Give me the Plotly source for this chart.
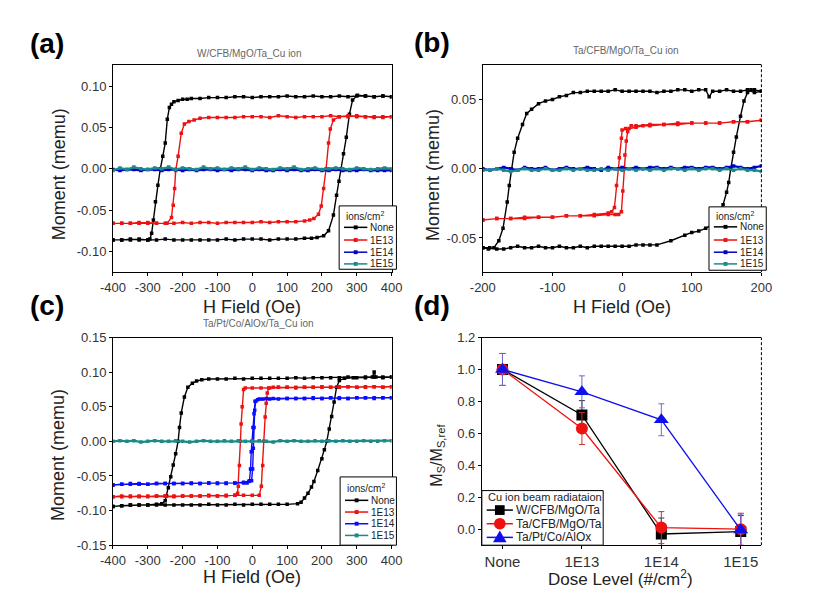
import plotly.graph_objects as go

FONT = "Liberation Sans, Arial, sans-serif"
W, H = 819, 599

# ---------------- data ----------------
series_names = ["None", "1E13", "1E14", "1E15"]
series_colors = ["#000000", "#ee1111", "#0000c8", "#1a8a8a"]
c_colors = ["#000000", "#ee1111", "#0a0aff", "#1a8a8a"]

# (a) W/CFB/MgO/Ta_Cu ion
a_none_desc_H = [400, 375, 350, 325, 300, 275, 250, 225, 200, 175, 150, 125, 100, 75, 50, 25, 0, -25, -50, -75, -100, -125, -150, -175, -187, -200, -213, -225, -232, -238, -244, -250, -257, -264, -271, -278, -284, -289, -294, -300, -325, -350, -375, -400]
a_none_desc_M = [0.087, 0.088, 0.087, 0.088, 0.088, 0.087, 0.088, 0.087, 0.087, 0.088, 0.087, 0.087, 0.088, 0.087, 0.087, 0.087, 0.086, 0.087, 0.087, 0.086, 0.086, 0.086, 0.085, 0.085, 0.084, 0.084, 0.0825, 0.081, 0.078, 0.074, 0.06, 0.031, 0.015, 0.0, -0.02, -0.04, -0.062, -0.078, -0.085, -0.086, -0.086, -0.085, -0.086, -0.086]
a_none_asc_H = [-400, -375, -350, -325, -300, -275, -250, -225, -200, -175, -150, -125, -100, -75, -50, -25, 0, 25, 50, 75, 100, 125, 150, 170, 186, 205, 219, 233, 242, 249, 255, 262, 270, 279, 288, 302, 325, 350, 375, 400]
a_none_asc_M = [-0.086, -0.086, -0.086, -0.085, -0.086, -0.086, -0.085, -0.086, -0.086, -0.086, -0.086, -0.086, -0.086, -0.085, -0.086, -0.085, -0.085, -0.085, -0.086, -0.085, -0.085, -0.085, -0.084, -0.084, -0.083, -0.081, -0.075, -0.056, -0.032, -0.015, 0.0, 0.018, 0.038, 0.066, 0.083, 0.089, 0.088, 0.087, 0.088, 0.087]
a_13_desc_H = [400, 375, 350, 325, 300, 275, 250, 225, 200, 175, 150, 125, 100, 75, 50, 25, 0, -25, -50, -75, -100, -125, -150, -167, -182, -195, -204, -213, -220, -223, -227, -232, -245, -275, -300, -325, -350, -375, -400]
a_13_desc_M = [0.063, 0.063, 0.062, 0.063, 0.063, 0.064, 0.063, 0.064, 0.063, 0.063, 0.063, 0.062, 0.063, 0.064, 0.062, 0.063, 0.063, 0.063, 0.062, 0.062, 0.062, 0.062, 0.061, 0.059, 0.057, 0.054, 0.043, 0.015, -0.002, -0.024, -0.044, -0.059, -0.066, -0.066, -0.066, -0.065, -0.066, -0.066, -0.066]
a_13_asc_H = [-400, -375, -350, -325, -300, -275, -250, -225, -200, -175, -150, -125, -100, -75, -50, -25, 0, 25, 50, 75, 100, 125, 150, 165, 177, 190, 198, 205, 212, 219, 224, 233, 250, 275, 300, 325, 350, 375, 400]
a_13_asc_M = [-0.066, -0.066, -0.066, -0.066, -0.065, -0.066, -0.066, -0.066, -0.065, -0.066, -0.065, -0.065, -0.066, -0.065, -0.065, -0.065, -0.065, -0.064, -0.065, -0.064, -0.064, -0.064, -0.063, -0.062, -0.060, -0.055, -0.045, -0.024, 0.0, 0.031, 0.048, 0.059, 0.063, 0.063, 0.064, 0.063, 0.063, 0.062, 0.063]
a_flat_H = [-400, -380, -360, -340, -320, -300, -280, -260, -240, -220, -200, -180, -160, -140, -120, -100, -80, -60, -40, -20, 0, 20, 40, 60, 80, 100, 120, 140, 160, 180, 200, 220, 240, 260, 280, 300, 320, 340, 360, 380, 400]
a_14_M = [-0.001, -0.002, -0.001, -0.001, -0.002, -0.001, -0.001, -0.002, -0.001, -0.001, -0.002, -0.001, -0.002, -0.001, -0.001, -0.002, -0.001, -0.002, -0.001, -0.001, -0.002, -0.001, -0.002, -0.002, -0.001, -0.002, -0.001, -0.002, -0.002, -0.001, -0.002, -0.002, -0.001, -0.002, -0.002, -0.002, -0.001, -0.002, -0.002, -0.002, -0.002]
a_15_M = [-0.002, 0.001, -0.001, 0.002, 0.000, -0.001, 0.001, 0.000, 0.002, -0.001, 0.001, 0.000, -0.001, 0.002, 0.000, 0.001, -0.001, 0.001, 0.000, 0.002, -0.001, 0.001, 0.000, -0.001, 0.001, 0.000, 0.002, -0.001, 0.000, 0.001, -0.001, 0.000, 0.001, 0.000, -0.001, 0.001, 0.000, -0.001, 0.000, 0.001, 0.000]

# (b) Ta/CFB/MgO/Ta_Cu ion
b_none_desc_H = [200, 190, 180, 170, 160, 150, 140, 130, 125, 120, 110, 100, 90, 80, 70, 60, 50, 40, 30, 20, 10, 0, -10, -20, -30, -40, -50, -60, -70, -80, -90, -100, -110, -120, -130, -137, -143, -150, -155, -159, -162, -165, -171, -177, -184, -192, -200]
b_none_desc_M = [0.056, 0.055, 0.057, 0.056, 0.056, 0.057, 0.056, 0.056, 0.052, 0.057, 0.057, 0.056, 0.057, 0.057, 0.056, 0.056, 0.055, 0.056, 0.056, 0.056, 0.056, 0.056, 0.057, 0.056, 0.056, 0.056, 0.056, 0.055, 0.055, 0.053, 0.052, 0.050, 0.049, 0.047, 0.043, 0.040, 0.032, 0.022, 0.012, 0.000, -0.012, -0.024, -0.043, -0.052, -0.057, -0.058, -0.057]
b_none_asc_H = [-200, -190, -180, -170, -160, -150, -140, -130, -120, -110, -100, -90, -80, -70, -60, -50, -40, -30, -20, -10, 0, 10, 20, 30, 40, 50, 70, 90, 100, 110, 120, 130, 138, 145, 150, 153, 156, 160, 164, 170, 175, 180, 185, 190, 200]
b_none_asc_M = [-0.057, -0.057, -0.058, -0.058, -0.057, -0.056, -0.057, -0.057, -0.056, -0.057, -0.057, -0.056, -0.057, -0.057, -0.056, -0.057, -0.056, -0.056, -0.056, -0.056, -0.056, -0.056, -0.055, -0.055, -0.055, -0.055, -0.052, -0.048, -0.046, -0.045, -0.043, -0.040, -0.033, -0.026, -0.017, -0.010, 0.000, 0.012, 0.023, 0.038, 0.049, 0.055, 0.057, 0.057, 0.056]
b_13_desc_H = [200, 180, 160, 140, 120, 100, 80, 60, 40, 30, 20, 10, 5, 0, -1, -4, -6, -8, -11, -15, -20, -40, -60, -80, -100, -120, -140, -160, -180, -200]
b_13_desc_M = [0.035, 0.034, 0.034, 0.033, 0.033, 0.033, 0.032, 0.032, 0.031, 0.031, 0.030, 0.029, 0.029, 0.028, 0.022, 0.008, 0.000, -0.012, -0.028, -0.031, -0.032, -0.033, -0.034, -0.034, -0.035, -0.035, -0.036, -0.036, -0.036, -0.037]
b_13_asc_H = [-200, -180, -160, -140, -120, -100, -80, -60, -40, -20, -10, -5, -1, 1, 3, 4, 6, 8, 13, 20, 40, 60, 80, 100, 120, 140, 160, 180, 200]
b_13_asc_M = [-0.037, -0.036, -0.036, -0.035, -0.035, -0.035, -0.034, -0.034, -0.034, -0.033, -0.033, -0.033, -0.031, -0.016, 0.0, 0.010, 0.020, 0.027, 0.031, 0.031, 0.032, 0.032, 0.033, 0.033, 0.033, 0.033, 0.034, 0.034, 0.035]
b_flat_H = [-200, -190, -180, -170, -160, -150, -140, -130, -120, -110, -100, -90, -80, -70, -60, -50, -40, -30, -20, -10, 0, 10, 20, 30, 40, 50, 60, 70, 80, 90, 100, 110, 120, 130, 140, 150, 160, 170, 180, 190, 200]
b_14_M = [0.000, -0.001, 0.000, 0.001, 0.000, -0.001, 0.001, 0.000, 0.000, 0.001, -0.001, 0.000, 0.001, 0.000, 0.000, 0.001, 0.000, -0.001, 0.001, 0.000, 0.001, 0.000, 0.001, 0.000, 0.001, 0.001, 0.000, 0.001, 0.000, 0.001, 0.001, 0.000, 0.001, 0.001, 0.000, 0.001, 0.002, 0.001, 0.000, 0.001, 0.002]
b_15_M = [-0.001, -0.001, 0.000, -0.001, -0.002, -0.001, 0.000, -0.001, -0.001, 0.000, -0.001, -0.001, 0.000, -0.001, 0.000, -0.001, -0.001, 0.000, -0.001, 0.000, -0.001, 0.000, -0.001, 0.000, -0.001, 0.000, -0.001, 0.000, 0.000, -0.001, 0.000, -0.001, 0.000, 0.000, -0.001, 0.000, -0.001, 0.000, -0.001, -0.001, -0.002]

# (c) Ta/Pt/Co/AlOx/Ta_Cu ion
c_none_desc_H = [400, 375, 350, 325, 300, 275, 250, 225, 200, 175, 150, 125, 100, 75, 50, 25, 0, -25, -50, -75, -100, -125, -145, -160, -172, -185, -195, -204, -209, -213, -220, -227, -234, -241, -246, -250, -260, -275, -300, -325, -350, -375, -400]
c_none_desc_M = [0.093, 0.092, 0.093, 0.093, 0.092, 0.093, 0.092, 0.092, 0.092, 0.092, 0.091, 0.092, 0.091, 0.091, 0.091, 0.091, 0.091, 0.090, 0.091, 0.090, 0.090, 0.090, 0.089, 0.087, 0.084, 0.078, 0.064, 0.041, 0.020, 0.000, -0.018, -0.034, -0.051, -0.067, -0.079, -0.086, -0.090, -0.091, -0.092, -0.092, -0.092, -0.093, -0.094]
c_none_asc_H = [-400, -375, -350, -325, -300, -275, -250, -225, -200, -175, -150, -125, -100, -75, -50, -25, 0, 25, 50, 75, 100, 130, 140, 150, 160, 170, 177, 188, 200, 207, 214, 221, 228, 235, 242, 250, 265, 290, 325, 345, 350, 355, 375, 400]
c_none_asc_M = [-0.094, -0.093, -0.092, -0.092, -0.092, -0.092, -0.092, -0.092, -0.092, -0.092, -0.092, -0.091, -0.092, -0.092, -0.091, -0.092, -0.091, -0.091, -0.091, -0.091, -0.091, -0.090, -0.088, -0.082, -0.075, -0.066, -0.058, -0.042, -0.025, -0.012, 0.000, 0.018, 0.036, 0.057, 0.078, 0.088, 0.091, 0.092, 0.092, 0.093, 0.100, 0.093, 0.093, 0.093]
c_13_desc_H = [400, 375, 350, 325, 300, 275, 250, 225, 200, 175, 150, 125, 100, 75, 50, 25, 0, -20, -25, -29, -32, -34, -37, -40, -42, -50, -75, -100, -125, -150, -175, -200, -225, -250, -275, -300, -325, -350, -375, -400]
c_13_desc_M = [0.079, 0.078, 0.079, 0.078, 0.078, 0.079, 0.078, 0.078, 0.078, 0.078, 0.078, 0.077, 0.078, 0.078, 0.077, 0.077, 0.077, 0.077, 0.075, 0.050, 0.025, 0.000, -0.035, -0.065, -0.075, -0.078, -0.078, -0.079, -0.079, -0.079, -0.079, -0.079, -0.080, -0.079, -0.079, -0.080, -0.079, -0.080, -0.079, -0.080]
c_13_asc_H = [-400, -375, -350, -325, -300, -275, -250, -225, -200, -175, -150, -125, -100, -75, -50, -25, 0, 20, 26, 30, 33, 37, 40, 43, 47, 60, 75, 100, 125, 150, 175, 200, 225, 250, 275, 300, 325, 350, 375, 400]
c_13_asc_M = [-0.080, -0.080, -0.079, -0.080, -0.079, -0.079, -0.079, -0.079, -0.079, -0.079, -0.079, -0.078, -0.079, -0.079, -0.078, -0.078, -0.078, -0.078, -0.065, -0.035, 0.000, 0.035, 0.055, 0.070, 0.077, 0.078, 0.078, 0.078, 0.078, 0.078, 0.078, 0.079, 0.078, 0.079, 0.079, 0.078, 0.079, 0.079, 0.078, 0.079]
c_14_desc_H = [400, 375, 350, 325, 300, 275, 250, 225, 200, 175, 150, 125, 100, 75, 50, 30, 15, 8, 5, 2, -1, -3, -5, -8, -15, -25, -50, -75, -100, -125, -150, -175, -200, -225, -250, -275, -300, -325, -350, -375, -400]
c_14_desc_M = [0.063, 0.063, 0.062, 0.063, 0.063, 0.062, 0.062, 0.063, 0.062, 0.062, 0.062, 0.062, 0.062, 0.061, 0.061, 0.061, 0.060, 0.058, 0.040, 0.020, 0.000, -0.015, -0.040, -0.057, -0.060, -0.060, -0.060, -0.061, -0.061, -0.060, -0.061, -0.061, -0.061, -0.061, -0.061, -0.061, -0.062, -0.062, -0.061, -0.062, -0.063]
c_14_asc_H = [-400, -375, -350, -325, -300, -275, -250, -225, -200, -175, -150, -125, -100, -75, -50, -25, -10, -2, 1, 3, 5, 7, 10, 20, 40, 60, 100, 125, 150, 175, 200, 225, 250, 275, 300, 325, 350, 375, 400]
c_14_asc_M = [-0.063, -0.062, -0.062, -0.061, -0.062, -0.061, -0.061, -0.061, -0.061, -0.060, -0.061, -0.060, -0.060, -0.060, -0.060, -0.059, -0.058, -0.057, -0.040, -0.010, 0.020, 0.045, 0.058, 0.061, 0.062, 0.062, 0.062, 0.062, 0.062, 0.063, 0.062, 0.063, 0.063, 0.062, 0.063, 0.063, 0.063, 0.063, 0.063]
c_flat_H = a_flat_H
c_15_M = [0.000, 0.001, 0.000, 0.001, -0.001, 0.000, 0.001, 0.000, 0.000, 0.001, 0.000, -0.001, 0.000, 0.001, 0.000, 0.000, 0.001, 0.000, 0.001, 0.000, 0.000, 0.001, 0.000, -0.001, 0.001, 0.000, 0.001, 0.000, 0.000, 0.001, 0.000, 0.001, 0.000, 0.001, 0.000, 0.000, 0.001, 0.000, 0.000, 0.001, 0.001]

# (d) normalized saturation moment
dose_labels = ["None", "1E13", "1E14", "1E15"]
dose_pos = [0, 1, 2, 3]
d_names = ["W/CFB/MgO/Ta", "Ta/CFB/MgO/Ta", "Ta/Pt/Co/AlOx"]
d_w_cfb = [1.0, 0.715, -0.03, -0.015]
d_ta_cfb = [1.0, 0.63, 0.01, 0.0]
d_ta_pt = [1.0, 0.86, 0.685, -0.005]
d_w_cfb_err = [0.1, 0.09, 0.1, 0.1]
d_ta_cfb_err = [0.1, 0.1, 0.1, 0.1]
d_ta_pt_err = [0.1, 0.1, 0.1, 0.1]
d_colors = ["#000000", "#ee1111", "#1010ee"]
d_err_colors = ["#333333", "#cc3333", "#6a6ad0"]
d_symbols = ["square", "circle", "triangle-up"]
d_sizes = [11, 12, 13]

# ---------------- figure ----------------
def pxx(x):
    return x / W

def pyy(y):
    return 1 - y / H

fig = go.Figure()

def loop_trace(Hd, Md, Ha, Ma, color, ax):
    fig.add_trace(go.Scatter(
        x=Hd + Ha, y=Md + Ma, mode="lines+markers", xaxis="x" + ax, yaxis="y" + ax,
        line=dict(color=color, width=1.4), marker=dict(symbol="square", size=3.5, color=color),
        showlegend=False, hoverinfo="skip"))

def flat_trace(Hs, Ms, color, ax):
    fig.add_trace(go.Scatter(
        x=Hs, y=Ms, mode="lines+markers", xaxis="x" + ax, yaxis="y" + ax,
        line=dict(color=color, width=2.2), marker=dict(symbol="square", size=3.5, color=color),
        showlegend=False, hoverinfo="skip"))

loop_trace(a_none_desc_H, a_none_desc_M, a_none_asc_H, a_none_asc_M, series_colors[0], "")
loop_trace(a_13_desc_H, a_13_desc_M, a_13_asc_H, a_13_asc_M, series_colors[1], "")
flat_trace(a_flat_H, a_14_M, series_colors[2], "")
flat_trace(a_flat_H, a_15_M, series_colors[3], "")

loop_trace(b_none_desc_H, b_none_desc_M, b_none_asc_H, b_none_asc_M, series_colors[0], "2")
loop_trace(b_13_desc_H, b_13_desc_M, b_13_asc_H, b_13_asc_M, series_colors[1], "2")
flat_trace(b_flat_H, b_14_M, series_colors[2], "2")
flat_trace(b_flat_H, b_15_M, series_colors[3], "2")

loop_trace(c_none_desc_H, c_none_desc_M, c_none_asc_H, c_none_asc_M, c_colors[0], "3")
loop_trace(c_13_desc_H, c_13_desc_M, c_13_asc_H, c_13_asc_M, c_colors[1], "3")
loop_trace(c_14_desc_H, c_14_desc_M, c_14_asc_H, c_14_asc_M, c_colors[2], "3")
flat_trace(c_flat_H, c_15_M, c_colors[3], "3")

for vals, errs, col, ecol, sym, sz in zip([d_w_cfb, d_ta_cfb, d_ta_pt], [d_w_cfb_err, d_ta_cfb_err, d_ta_pt_err],
                                         d_colors, d_err_colors, d_symbols, d_sizes):
    fig.add_trace(go.Scatter(
        x=dose_pos, y=vals, mode="lines+markers", xaxis="x4", yaxis="y4",
        line=dict(color=col, width=1.3), marker=dict(symbol=sym, size=sz, color=col),
        error_y=dict(type="data", array=errs, color=ecol, thickness=1, width=3),
        showlegend=False, hoverinfo="skip"))

tickfont = dict(family=FONT, size=13, color="#333333")

def axstyle(**kw):
    d = dict(showline=True, linecolor="black", linewidth=1, mirror=True, ticks="outside",
             ticklen=3, tickcolor="black", showgrid=False, zeroline=False, tickfont=tickfont)
    d.update(kw)
    return d

a_xt = [-400, -300, -200, -100, 0, 100, 200, 300, 400]
a_yt = [-0.10, -0.05, 0.00, 0.05, 0.10]
b_xt = [-200, -100, 0, 100, 200]
b_yt = [-0.05, 0.00, 0.05]
c_yt = [-0.15, -0.10, -0.05, 0.00, 0.05, 0.10, 0.15]
d_yt = [0.0, 0.2, 0.4, 0.6, 0.8, 1.0, 1.2]

fig.update_layout(
    width=W, height=H, margin=dict(l=0, r=0, t=0, b=0),
    paper_bgcolor="white", plot_bgcolor="white", showlegend=False,
    font=dict(family=FONT, color="#222222"),
    xaxis=axstyle(domain=[pxx(103), pxx(390)], anchor="y", range=[-400, 400],
                  tickvals=a_xt, ticktext=[str(v) for v in a_xt]),
    yaxis=axstyle(domain=[pyy(272), pyy(59)], anchor="x", range=[-0.125, 0.126],
                  tickvals=a_yt, ticktext=[format(v, ".2f") for v in a_yt]),
    xaxis2=axstyle(domain=[pxx(484), pxx(771)], anchor="y2", range=[-200, 200],
                   tickvals=b_xt, ticktext=[str(v) for v in b_xt]),
    yaxis2=axstyle(domain=[pyy(272), pyy(59)], anchor="x2", range=[-0.0747, 0.0753], mirror=False,
                   tickvals=b_yt, ticktext=[format(v, ".2f") for v in b_yt]),
    xaxis3=axstyle(domain=[pxx(103), pxx(390)], anchor="y3", range=[-400, 400],
                   tickvals=a_xt, ticktext=[str(v) for v in a_xt]),
    yaxis3=axstyle(domain=[pyy(552), pyy(339)], anchor="x3", range=[-0.15, 0.15],
                   tickvals=c_yt, ticktext=[format(v, ".2f") for v in c_yt]),
    xaxis4=axstyle(domain=[pxx(483), pxx(771)], anchor="y4", range=[-0.26, 3.26],
                   tickvals=dose_pos, ticktext=dose_labels,
                   tickfont=dict(family=FONT, size=15, color="#333333")),
    yaxis4=axstyle(domain=[pyy(552), pyy(339)], anchor="x4", range=[-0.1, 1.2], mirror=False,
                   tickvals=d_yt, ticktext=[format(v, ".1f") for v in d_yt]),
)

shapes = []
annotations = []

# dashed right borders for (b) and (d)
for ax in ["2", "4"]:
    shapes.append(dict(type="line", xref="x%s domain" % ax, yref="y%s domain" % ax,
                       x0=1, x1=1, y0=0, y1=1, line=dict(color="black", width=1, dash="3px,2px")))

def ann(x, y, text, size, **kw):
    d = dict(x=pxx(x), y=pyy(y), xref="paper", yref="paper", text=text, showarrow=False,
             font=dict(family=FONT, size=size, color=kw.pop("color", "#222222")),
             xanchor=kw.pop("xanchor", "center"), yanchor=kw.pop("yanchor", "middle"))
    d.update(kw)
    annotations.append(d)

# panel labels
ann(35, 37, "<b>(a)</b>", 28, color="black")
ann(432, 36, "<b>(b)</b>", 28, color="black")
ann(35, 306, "<b>(c)</b>", 28, color="black")
ann(432, 306, "<b>(d)</b>", 28, color="black")

# small titles
ann(243, 48, "W/CFB/MgO/Ta_Cu ion", 10, color="#666666")
ann(632, 45, "Ta/CFB/MgO/Ta_Cu ion", 10, color="#666666")
ann(253, 325, "Ta/Pt/Co/AlOx/Ta_Cu ion", 10, color="#666666")

# axis titles
ann(47, 172, "Moment (memu)", 18, textangle=-90)
ann(432, 172, "Moment (memu)", 18, textangle=-90)
ann(47, 460, "Moment (memu)", 18, textangle=-90)
ann(437, 460, "M<sub>S</sub>/M<sub>S,ref</sub>", 16, textangle=-90)
ann(246, 308, "H Field (Oe)", 18)
ann(627, 308, "H Field (Oe)", 18)
ann(246, 585, "H Field (Oe)", 18)
ann(626, 586, "Dose Level (#/cm<sup>2</sup>)", 17)

# manual legends for hysteresis panels
def hyst_legend(x0, y0, x1, y1, title_y, rows, colors):
    shapes.append(dict(type="rect", xref="paper", yref="paper", x0=pxx(x0), x1=pxx(x1),
                       y0=pyy(y1), y1=pyy(y0), line=dict(color="black", width=1), fillcolor="white"))
    ann(x0 + 5, title_y, "ions/cm<sup>2</sup>", 10, xanchor="left")
    for ry, name, col in zip(rows, series_names, colors):
        shapes.append(dict(type="line", xref="paper", yref="paper", x0=pxx(x0 + 5), x1=pxx(x0 + 29),
                           y0=pyy(ry), y1=pyy(ry), line=dict(color=col, width=1.5)))
        shapes.append(dict(type="rect", xref="paper", yref="paper", x0=pxx(x0 + 15), x1=pxx(x0 + 19),
                           y0=pyy(ry + 2), y1=pyy(ry - 2), line=dict(width=0), fillcolor=col))
        ann(x0 + 30, ry, name, 10, xanchor="left")

hyst_legend(336, 204, 395, 269, 214, [226, 239, 251.5, 263.5], series_colors)
hyst_legend(717, 205, 776, 270, 214, [225.5, 239, 251.5, 263.5], series_colors)
hyst_legend(337, 482, 395, 552, 493, [506, 518, 530, 542], c_colors)

# manual legend for (d)
shapes.append(dict(type="rect", xref="paper", yref="paper", x0=pxx(483), x1=pxx(608),
                   y0=pyy(552), y1=pyy(496), line=dict(color="black", width=1), fillcolor="white"))
ann(487, 503, "Cu ion beam radiataion", 11, xanchor="left")
d_rows = [516, 530, 544]
for ry, name, col in zip(d_rows, d_names, d_colors):
    shapes.append(dict(type="line", xref="paper", yref="paper", x0=pxx(488), x1=pxx(515),
                       y0=pyy(ry), y1=pyy(ry), line=dict(color=col, width=1.5)))
    ann(516, ry, name, 12, xanchor="left")
cx = 501.5
r = 5
shapes.append(dict(type="rect", xref="paper", yref="paper", x0=pxx(cx - r), x1=pxx(cx + r),
                   y0=pyy(d_rows[0] + r), y1=pyy(d_rows[0] - r), line=dict(width=0), fillcolor=d_colors[0]))
shapes.append(dict(type="circle", xref="paper", yref="paper", x0=pxx(cx - 6), x1=pxx(cx + 6),
                   y0=pyy(d_rows[1] + 6), y1=pyy(d_rows[1] - 6), line=dict(width=0), fillcolor=d_colors[1]))
ty = d_rows[2]
shapes.append(dict(type="path", xref="paper", yref="paper",
                   path="M %f,%f L %f,%f L %f,%f Z" % (pxx(cx - 7), pyy(ty + 5), pxx(cx + 7), pyy(ty + 5), pxx(cx), pyy(ty - 7)),
                   line=dict(width=0), fillcolor=d_colors[2]))

fig.update_layout(shapes=shapes, annotations=annotations)
fig.write_html("out.html")
